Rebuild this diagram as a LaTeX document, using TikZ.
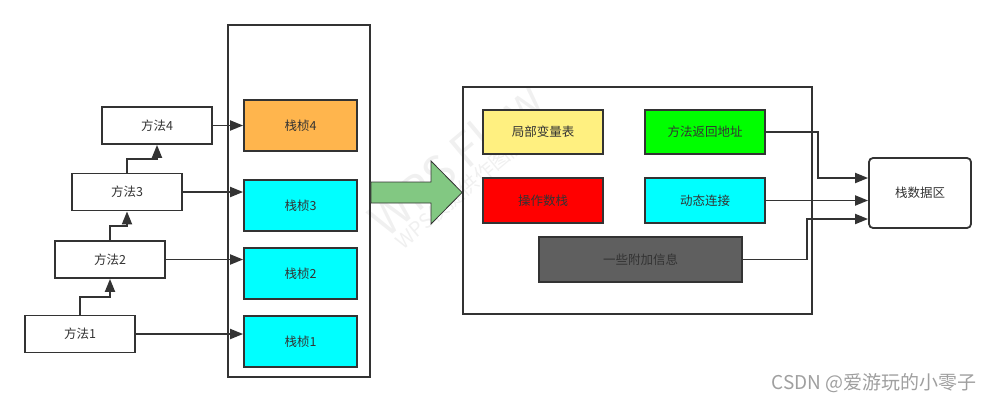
\documentclass[tikz,border=0pt]{standalone}
\usepackage{fontspec}
\setmainfont{Noto Sans CJK SC}
\usetikzlibrary{arrows.meta,calc}
\definecolor{linecol}{HTML}{333333}
\definecolor{txtcol}{HTML}{333333}
\definecolor{orangefr}{HTML}{FFB54D}
\definecolor{cyanfr}{HTML}{00FFFF}
\definecolor{yellowfr}{HTML}{FFF080}
\definecolor{greenfr}{HTML}{00FF00}
\definecolor{redfr}{HTML}{FF0000}
\definecolor{grayfr}{HTML}{5F5F5F}
\definecolor{arrowgreen}{HTML}{82C882}
\begin{document}
\begin{tikzpicture}[x=1pt, y=-1pt,
        container/.style={rectangle, draw=linecol, line width=1.8pt},
        method/.style={rectangle, draw=linecol, line width=1.8pt, fill=white, minimum width=110pt, minimum height=37pt, inner sep=0pt, text=txtcol, font=\fontsize{12.5}{15}\selectfont},
        stackframe/.style={method, minimum width=113pt, minimum height=51pt},
        part/.style={method, minimum width=120pt, minimum height=44pt},
        link/.style={-{Triangle[length=13pt,width=10pt]}, draw=linecol, line width=1.9pt},
        watermark/.style={text=gray!12, rotate=40}
    ]
        \useasboundingbox (0,0) rectangle (995,402);

        % Watermark
        \node[watermark, font=\fontsize{46}{50}\selectfont] (wm1) at (455,158) {WPS Flow};
        \node[watermark, font=\fontsize{20}{24}\selectfont] (wm2) at (468,186) {WPS仅提供作图能力};

        % Call stack
        \node[container, minimum width=142pt, minimum height=352pt] (stk) at (299,201) {};
        \node[stackframe, fill=orangefr] (f4) at (300.5,125.5) {栈桢4};
        \node[stackframe, fill=cyanfr] (f3) at (300.5,205.5) {栈桢3};
        \node[stackframe, fill=cyanfr] (f2) at (300.5,273.5) {栈桢2};
        \node[stackframe, fill=cyanfr] (f1) at (300.5,341.5) {栈桢1};

        % Methods
        \node[method] (m4) at (157,125.5) {方法4};
        \node[method] (m3) at (127,192) {方法3};
        \node[method] (m2) at (110,259.5) {方法2};
        \node[method] (m1) at (80,334) {方法1};

        \draw[link] (m1.north) |- ($(m1.north)!.5!(m2.south)$) -| (m2.south);
        \draw[link] (m2.north) |- ($(m2.north)!.5!(m3.south)$) -| (m3.south);
        \draw[link] (m3.north) |- ($(m3.north)!.5!(m4.south)$) -| (m4.south);

        \draw[link] (m4.east) -- (m4.east -| f4.west);
        \draw[link] (m3.east) -- (m3.east -| f3.west);
        \draw[link] (m2.east) -- (m2.east -| f2.west);
        \draw[link] (m1.east) -- (m1.east -| f1.west);

        % Stack frame contents
        \node[container, minimum width=349pt, minimum height=227pt] (frm) at (637.5,200.5) {};
        \node[part, fill=yellowfr] (lv) at (543,132) {局部变量表};
        \node[part, fill=greenfr] (ra) at (705,132) {方法返回地址};
        \node[part, fill=redfr, minimum height=45pt] (os) at (543,200.5) {操作数栈};
        \node[part, fill=cyanfr, minimum height=45pt] (dl) at (705,200.5) {动态连接};
        \node[part, fill=grayfr, minimum width=203pt, minimum height=45pt] (ex) at (640.5,259.5) {一些附加信息};

        % Big arrow
        \draw[linecol, fill=arrowgreen, line width=0.8pt] (stk.east |- 0,182) -- (431,182) -- (431,161)
            -- (frm.west |- 0,192.5) -- (431,224) -- (431,203) -- (stk.east |- 0,203) -- cycle;

        % Stack data area
        \node[method, rounded corners=4pt, minimum width=102pt, minimum height=70pt] (sd) at (920,193) {栈数据区};
        \draw[link] (ra.east) -- ++(52,0) |- ([yshift=15pt]sd.west);
        \draw[link] (dl.east) -- (dl.east -| sd.west);
        \draw[link] (ex.east) -- ++(64,0) |- ([yshift=-26pt]sd.west);

        % Credit
        \node[text=gray!75, font=\fontsize{19}{22}\selectfont] (credit) at (874,383) {CSDN @爱游玩的小零子};
    \end{tikzpicture}
\end{document}
